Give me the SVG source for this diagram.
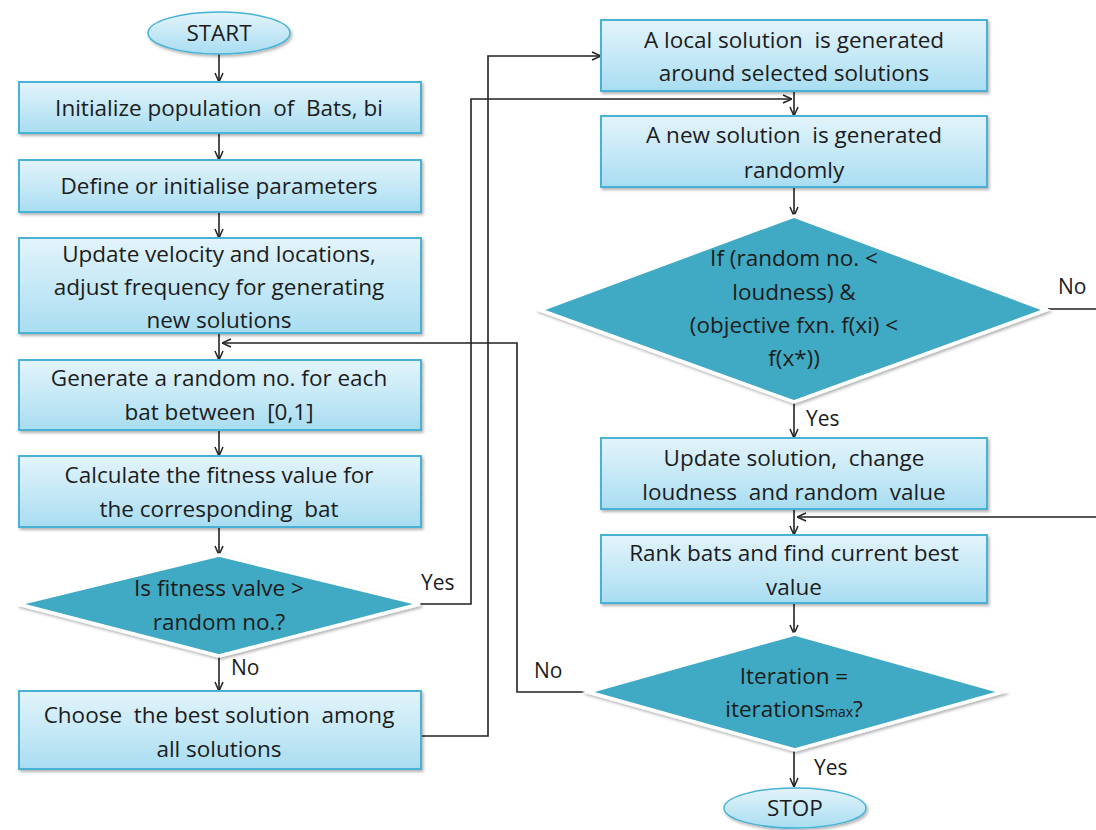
<svg xmlns="http://www.w3.org/2000/svg" width="1096" height="830" viewBox="0 0 1096 830">
<defs>
<linearGradient id="boxg" x1="0" y1="0" x2="0" y2="1">
<stop offset="0" stop-color="#e3f4fb"/>
<stop offset="1" stop-color="#a9ddf1"/>
</linearGradient>
<linearGradient id="ellg" x1="0" y1="0" x2="0" y2="1">
<stop offset="0" stop-color="#e3f4fb"/>
<stop offset="1" stop-color="#a9ddf1"/>
</linearGradient>
<filter id="sh" x="-10%" y="-10%" width="120%" height="130%">
<feDropShadow dx="1.5" dy="2" stdDeviation="1.5" flood-color="#000" flood-opacity="0.3"/>
</filter>
<marker id="arr" viewBox="0 0 10 10" refX="10" refY="5" markerWidth="10" markerHeight="10" markerUnits="userSpaceOnUse" orient="auto">
<path d="M1,1 L10,5 L1,9" fill="none" stroke="#222" stroke-width="1.5"/>
</marker>
<style>
.box{fill:url(#boxg);stroke:#46b2d6;stroke-width:2;filter:url(#sh)}
.ell{fill:url(#ellg);stroke:#46b2d6;stroke-width:1.5;filter:url(#sh)}
.dia{fill:#3fa9c3;stroke:#ffffff;stroke-width:3.5;filter:url(#sh)}
.t{font-family:"Open Sans","Liberation Sans",Arial,sans-serif;font-size:22.5px;fill:#1c1c1c;text-anchor:middle;white-space:pre}
.lbl{font-family:"Open Sans","Liberation Sans",Arial,sans-serif;font-size:21px;fill:#1c1c1c}
.c{fill:none;stroke:#222;stroke-width:1.6}
.a{marker-end:url(#arr)}
</style>
</defs>
<rect width="1096" height="830" fill="#ffffff"/>

<g id="connectors">
<path class="c a" d="M219,54 V82"/>
<path class="c a" d="M219,133 V160"/>
<path class="c a" d="M219,212 V238"/>
<path class="c a" d="M219,333 V360"/>
<path class="c a" d="M219,430 V456"/>
<path class="c a" d="M219,527 V555"/>
<path class="c a" d="M219,656 V691"/>
<path class="c a" d="M420,604 H471 V99 H792"/>
<path class="c a" d="M421,736 H488 V56 H601"/>
<path class="c a" d="M794,91 V116"/>
<path class="c a" d="M794,187 V216"/>
<path class="c a" d="M794,402 V438"/>
<path class="c a" d="M1048,309 H1100 V517 H797"/>
<path class="c a" d="M794,509 V535"/>
<path class="c a" d="M794,603 V634"/>
<path class="c a" d="M794,750 V787"/>
<path class="c a" d="M590,692 H517 V343 H222"/>
<text class="lbl" x="421" y="590">Yes</text>
<text class="lbl" x="231" y="675">No</text>
<text class="lbl" x="1058" y="294">No</text>
<text class="lbl" x="806" y="426">Yes</text>
<text class="lbl" x="534" y="678">No</text>
<text class="lbl" x="814" y="775">Yes</text>
</g>

<g id="start">
<ellipse class="ell" cx="219" cy="33" rx="71" ry="21"/>
<text class="t" x="219" y="41">START</text>
</g>
<g id="init">
<rect class="box" x="19" y="82" width="402" height="51"/>
<text class="t" x="219" y="116">Initialize population  of  Bats, bi</text>
</g>
<g id="define">
<rect class="box" x="19" y="160" width="402" height="52"/>
<text class="t" x="219" y="194">Define or initialise parameters</text>
</g>
<g id="update">
<rect class="box" x="19" y="238" width="402" height="95"/>
<text class="t" x="219" y="262">Update velocity and locations,</text>
<text class="t" x="219" y="295">adjust frequency for generating</text>
<text class="t" x="219" y="328">new solutions</text>
</g>
<g id="random">
<rect class="box" x="19" y="360" width="402" height="70"/>
<text class="t" x="219" y="386">Generate a random no. for each</text>
<text class="t" x="219" y="420">bat between  [0,1]</text>
</g>
<g id="fitness">
<rect class="box" x="19" y="456" width="402" height="71"/>
<text class="t" x="219" y="483">Calculate the fitness value for</text>
<text class="t" x="219" y="517">the corresponding  bat</text>
</g>
<g id="decision1">
<polygon class="dia" points="219,555 420,604 219,656 18,604"/>
<text class="t" x="219" y="596">Is fitness valve &gt;</text>
<text class="t" x="219" y="630">random no.?</text>
</g>
<g id="choose">
<rect class="box" x="19" y="691" width="402" height="78"/>
<text class="t" x="219" y="723">Choose  the best solution  among</text>
<text class="t" x="219" y="757">all solutions</text>
</g>
<g id="local">
<rect class="box" x="601" y="20" width="386" height="71"/>
<text class="t" x="794" y="48">A local solution  is generated</text>
<text class="t" x="794" y="81">around selected solutions</text>
</g>
<g id="newsol">
<rect class="box" x="601" y="116" width="386" height="71"/>
<text class="t" x="794" y="143">A new solution  is generated</text>
<text class="t" x="794" y="178">randomly</text>
</g>
<g id="decision2">
<polygon class="dia" points="794,216 1046,310 794,402 540,310"/>
<text class="t" x="794" y="266">If (random no. &lt;</text>
<text class="t" x="794" y="300">loudness) &amp;</text>
<text class="t" x="794" y="333">(objective fxn. f(xi) &lt;</text>
<text class="t" x="794" y="366">f(x*))</text>
</g>
<g id="updsol">
<rect class="box" x="601" y="438" width="386" height="71"/>
<text class="t" x="794" y="466">Update solution,  change</text>
<text class="t" x="794" y="500">loudness  and random  value</text>
</g>
<g id="rank">
<rect class="box" x="601" y="535" width="386" height="68"/>
<text class="t" x="794" y="561">Rank bats and find current best</text>
<text class="t" x="794" y="595">value</text>
</g>
<g id="decision3">
<polygon class="dia" points="795,634 1002,692 795,750 588,692"/>
<text class="t" x="794" y="684">Iteration =</text>
<text class="t" x="794" y="717">iterations<tspan font-size="14">max</tspan>?</text>
</g>
<g id="stop">
<ellipse class="ell" cx="795" cy="808" rx="71" ry="20"/>
<text class="t" x="795" y="816">STOP</text>
</g>
</svg>
